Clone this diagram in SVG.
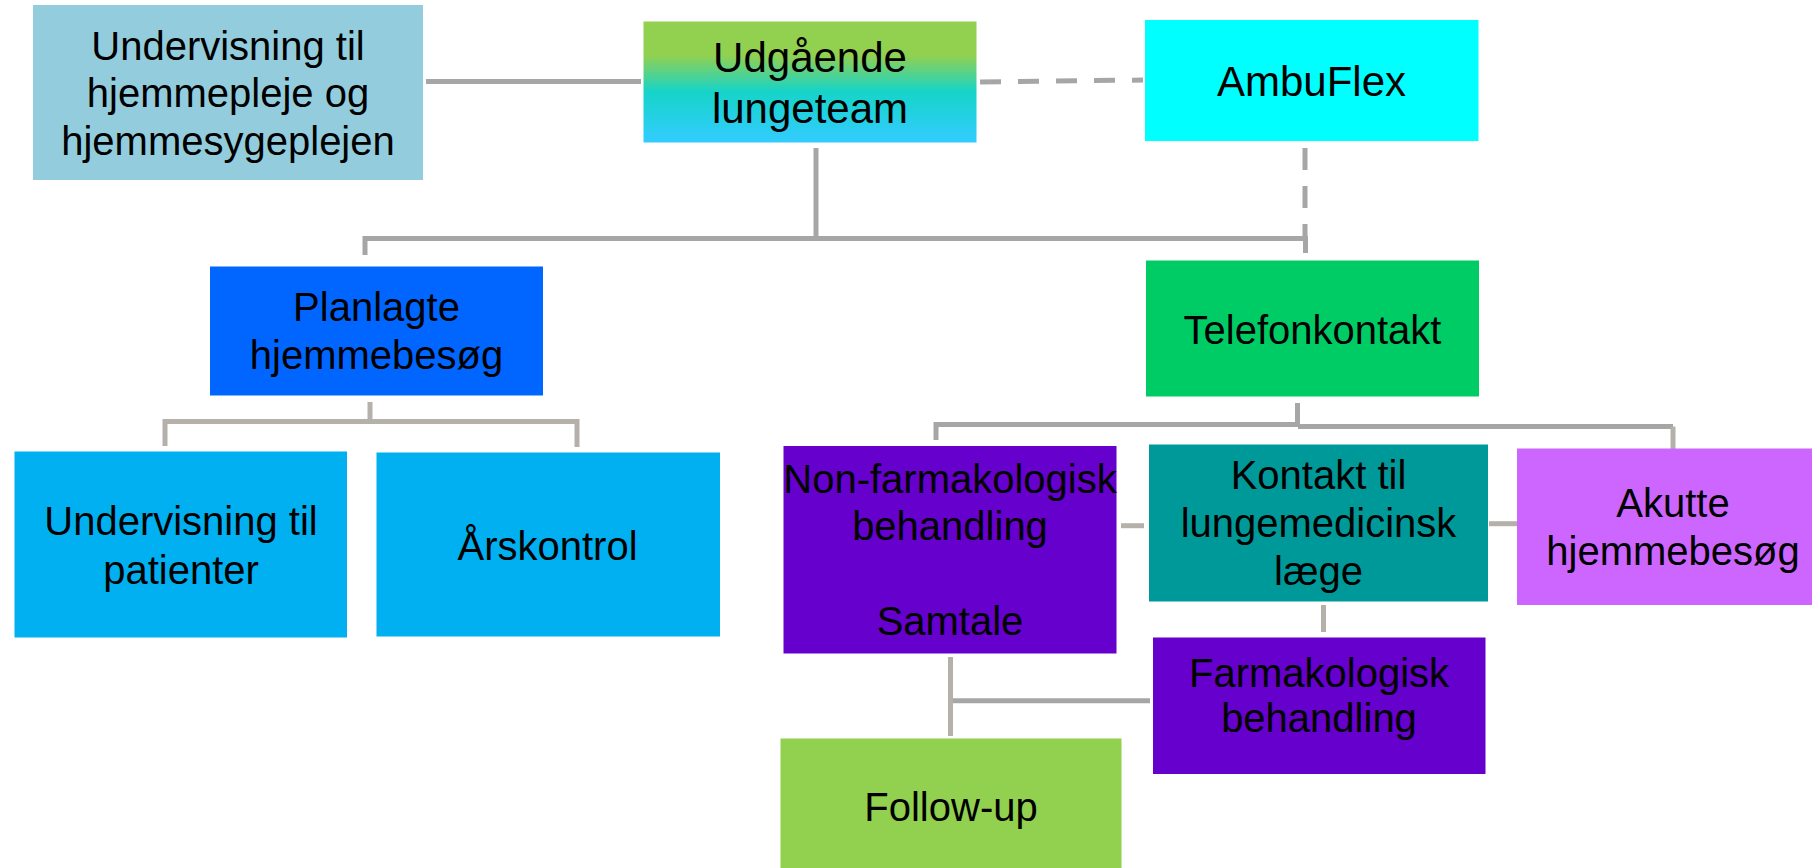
<svg xmlns="http://www.w3.org/2000/svg" width="1812" height="868" viewBox="0 0 1812 868">
<defs>
<linearGradient id="gUdg" x1="0" y1="0" x2="0" y2="1">
<stop offset="0" stop-color="#92D050"/>
<stop offset="0.28" stop-color="#92D050"/>
<stop offset="0.58" stop-color="#16D4C9"/>
<stop offset="1" stop-color="#33CCFF"/>
</linearGradient>
<style>
text{font-family:"Liberation Sans",Arial,sans-serif;font-size:40px;fill:#000;text-anchor:middle}
.big{font-size:42px}
.c{fill:none;stroke:#A6A6A6;stroke-width:5}
.w{fill:none;stroke:#B5B1AA;stroke-width:5}
.d{stroke-dasharray:21 17}
</style>
</defs>
<rect width="1812" height="868" fill="#fff"/>
<g id="connectors">
<path class="c" d="M426,81.5 H641"/>
<path class="c d" d="M980,82 L1143,80"/>
<path class="c" d="M816,148 V238.5"/>
<path class="c" d="M365,255 V238.5 H1305.5 V253"/>
<path class="c" d="M1305,148 V236" stroke-dasharray="22 16"/>
<path class="c" d="M1297.5,403 V424.5"/>
<path class="c" d="M936,440 V424.5 H1298"/>
<path class="c" d="M1298,426.5 H1673"/>
<path class="w" d="M1673,426.5 V455"/>
<path class="w" d="M370,402 V421.5"/>
<path class="w" d="M165,446 V421.5 H577 V447"/>
<path class="w" d="M1121,525.7 H1144"/>
<path class="w" d="M1489,523.7 H1517"/>
<path class="w" d="M1323.5,605 V632"/>
<path class="w" d="M950.5,657 V736"/>
<path class="c" d="M953,700.7 H1150"/>
</g>
<g id="n-undervisning-hjemmepleje">
<rect x="33" y="5" width="390" height="175" fill="#93CDDD"/>
<text x="228" y="60">Undervisning til</text>
<text x="228" y="107">hjemmepleje og</text>
<text x="228" y="155">hjemmesygeplejen</text>
</g>
<g id="n-udgaaende">
<rect x="643.5" y="21.5" width="333" height="121" fill="url(#gUdg)"/>
<text class="big" x="810" y="72">Udgående</text>
<text class="big" x="810" y="123">lungeteam</text>
</g>
<g id="n-ambuflex">
<rect x="1145" y="20" width="333.5" height="121" fill="#00FFFF"/>
<text class="big" x="1311.5" y="96">AmbuFlex</text>
</g>
<g id="n-planlagte">
<rect x="210" y="266.5" width="333" height="129" fill="#0066FF"/>
<text x="376.5" y="320.5">Planlagte</text>
<text x="376.5" y="368.5">hjemmebesøg</text>
</g>
<g id="n-telefonkontakt">
<rect x="1146" y="260.5" width="333" height="136" fill="#00CC66"/>
<text x="1312.5" y="343.5">Telefonkontakt</text>
</g>
<g id="n-undervisning-patienter">
<rect x="14.5" y="451.5" width="332.5" height="186" fill="#00B0F0"/>
<text x="181" y="535">Undervisning til</text>
<text x="181" y="583.5">patienter</text>
</g>
<g id="n-aarskontrol">
<rect x="376.5" y="452.5" width="343.5" height="184" fill="#00B0F0"/>
<text x="547.5" y="559.5">Årskontrol</text>
</g>
<g id="n-nonfarmakologisk">
<rect x="783.5" y="446" width="333" height="207.5" fill="#6600CC"/>
<text x="950" y="492.5">Non-farmakologisk</text>
<text x="950" y="540">behandling</text>
<text x="950" y="635">Samtale</text>
</g>
<g id="n-kontakt">
<rect x="1149" y="444.5" width="339" height="157" fill="#009999"/>
<text x="1318.5" y="489">Kontakt til</text>
<text x="1318.5" y="537">lungemedicinsk</text>
<text x="1318.5" y="585">læge</text>
</g>
<g id="n-akutte">
<rect x="1517" y="448.5" width="300" height="156.5" fill="#CC66FF"/>
<text x="1673" y="516.7">Akutte</text>
<text x="1673" y="565">hjemmebesøg</text>
</g>
<g id="n-farmakologisk">
<rect x="1153" y="637.5" width="332.5" height="136.5" fill="#6600CC"/>
<text x="1319" y="687">Farmakologisk</text>
<text x="1319" y="731.5">behandling</text>
</g>
<g id="n-followup">
<rect x="780.5" y="738.5" width="341" height="135" fill="#92D050"/>
<text x="951" y="821">Follow-up</text>
</g>
</svg>
